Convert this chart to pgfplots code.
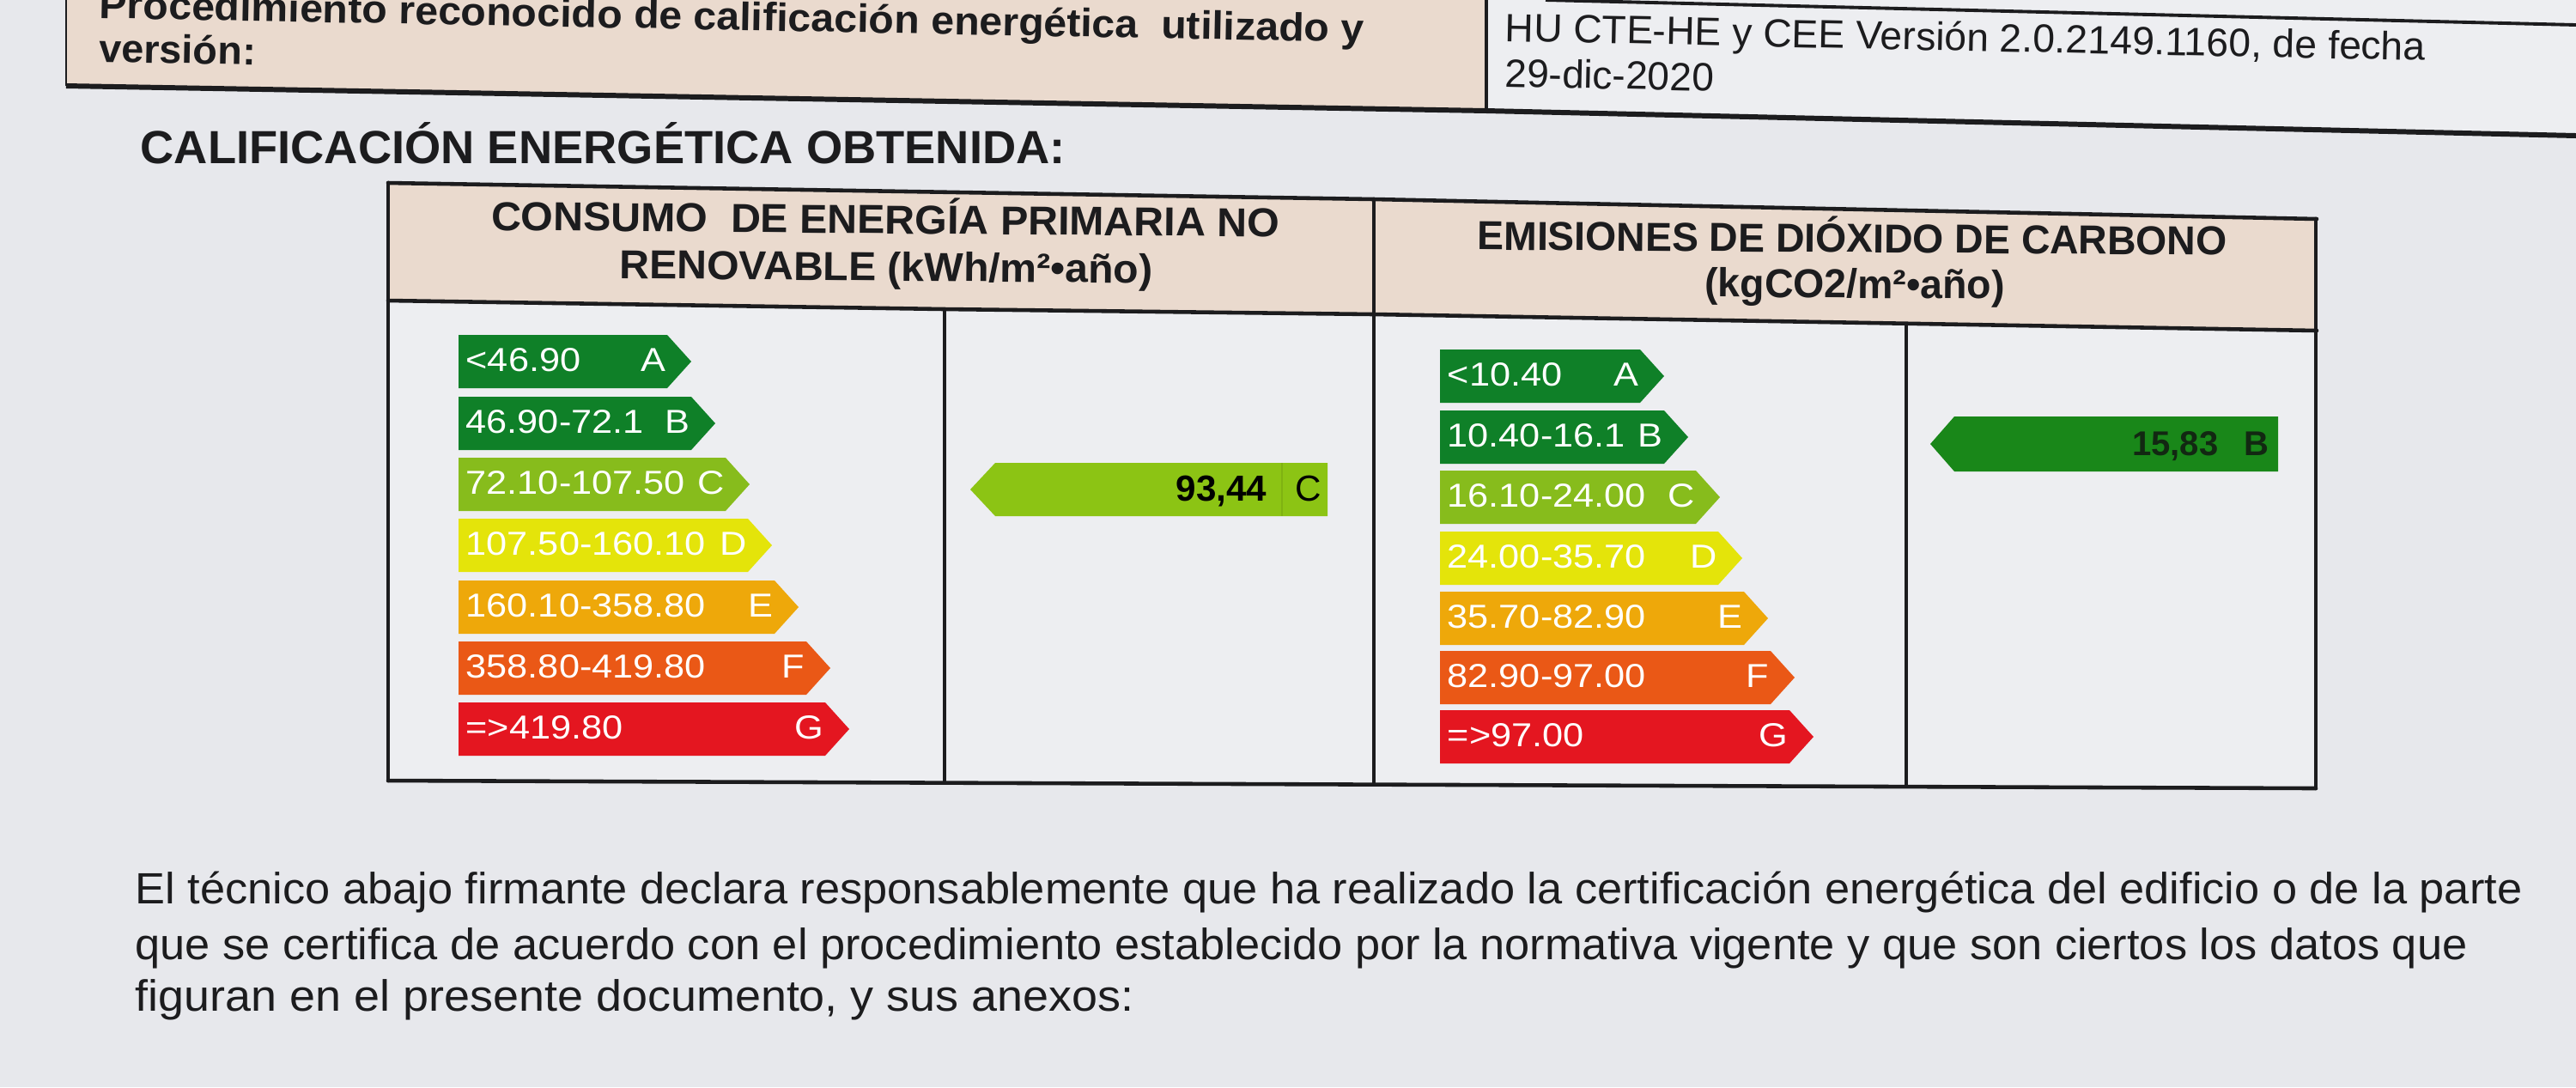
\documentclass[border=0pt]{standalone}
\usepackage{pgfplots}
\pgfplotsset{compat=1.18}
\usepackage{fontspec}
\setmainfont{Liberation Sans}
\usepackage{graphicx}
\definecolor{bg}{RGB}{231,232,236}
\definecolor{cell}{RGB}{237,238,241}
\definecolor{beige}{RGB}{234,218,206}
\definecolor{cA}{RGB}{15,128,40}
\definecolor{cC}{RGB}{135,188,28}
\definecolor{cD}{RGB}{228,228,10}
\definecolor{cE}{RGB}{238,168,10}
\definecolor{cF}{RGB}{234,88,22}
\definecolor{cG}{RGB}{228,22,32}
\definecolor{rC}{RGB}{140,196,20}
\definecolor{rB}{RGB}{25,135,25}
\definecolor{ink}{RGB}{28,28,30}
\newcommand{\fitw}[2]{\resizebox{#1}{\height}{#2}}
\newcommand{\sx}[1]{\scalebox{1.12}[1]{#1}}
\tikzset{
  stxt/.style={anchor=base west, inner sep=0pt, text=white, font=\fontsize{11pt}{13pt}\selectfont},
  slet/.style={anchor=base east, inner sep=0pt, text=white, font=\fontsize{11pt}{13pt}\selectfont},
  tl/.style={ink, line width=1.3pt, line cap=round},
}
\begin{document}
\begin{tikzpicture}
\begin{axis}[
  scale only axis, width=30cm, height=12.66cm,
  xmin=0, xmax=3000, ymin=0, ymax=1266, y dir=reverse,
  hide axis, clip=true,
]
% background and cells
\addplot[fill=bg, draw=none] coordinates {(0,0) (3000,0) (3000,1266) (0,1266)};
\addplot[fill=beige, draw=none] coordinates {(77,0) (1731,0) (1731,129) (77,100)};
\addplot[fill=cell, draw=none] coordinates {(1731,0) (3000,0) (3000,158) (1731,129)};
\addplot[fill=cell, draw=none] coordinates {(452,350) (1600,366) (2698,385) (2697,918) (452,909)};
\addplot[fill=beige, draw=none] coordinates {(452,213) (1600,232) (2698,255) (2698,385) (1600,366) (452,350)};
% top section lines
\addplot[ink, line width=1.7pt] coordinates {(77,100) (1731,129) (3000,158)};
\addplot[ink, line width=0.8pt] coordinates {(77,0) (77,100)};
\addplot[ink, line width=0.9pt] coordinates {(1731,0) (1731,129)};
\addplot[ink, line width=1.1pt] coordinates {(1800,0) (3000,29)};
% table lines
\addplot[tl] coordinates {(452,213) (1600,232) (2698,255)};
\addplot[tl] coordinates {(452,350) (1100,360) (1600,366) (2698,385)};
\addplot[tl] coordinates {(452,909) (2697,918)};
\addplot[tl] coordinates {(452,213) (452,909)};
\addplot[tl] coordinates {(1600,232) (1600,913)};
\addplot[ink, line width=1.1pt] coordinates {(1100,360) (1100,910)};
\addplot[ink, line width=1.1pt] coordinates {(2220,377) (2220,915)};
\addplot[tl] coordinates {(2697,255) (2697,918)};
% left scale (consumo)
\addplot[fill=cA, draw=none] coordinates {(534,390) (777,390) (805,421) (777,452) (534,452)};
\addplot[fill=cA, draw=none] coordinates {(534,462) (805,462) (833,493) (805,524) (534,524)};
\addplot[fill=cC, draw=none] coordinates {(534,533) (845,533) (873,564) (845,595) (534,595)};
\addplot[fill=cD, draw=none] coordinates {(534,604) (871,604) (899,635) (871,666) (534,666)};
\addplot[fill=cE, draw=none] coordinates {(534,676) (902,676) (930,707) (902,738) (534,738)};
\addplot[fill=cF, draw=none] coordinates {(534,747) (939,747) (967,778) (939,809) (534,809)};
\addplot[fill=cG, draw=none] coordinates {(534,818) (961,818) (989,849) (961,880) (534,880)};
% right scale (emisiones)
\addplot[fill=cA, draw=none] coordinates {(1677,407) (1910,407) (1938,438) (1910,469) (1677,469)};
\addplot[fill=cA, draw=none] coordinates {(1677,478) (1938,478) (1966,509) (1938,540) (1677,540)};
\addplot[fill=cC, draw=none] coordinates {(1677,548) (1975,548) (2003,579) (1975,610) (1677,610)};
\addplot[fill=cD, draw=none] coordinates {(1677,619) (2001,619) (2029,650) (2001,681) (1677,681)};
\addplot[fill=cE, draw=none] coordinates {(1677,689) (2031,689) (2059,720) (2031,751) (1677,751)};
\addplot[fill=cF, draw=none] coordinates {(1677,758) (2062,758) (2090,789) (2062,820) (1677,820)};
\addplot[fill=cG, draw=none] coordinates {(1677,827) (2084,827) (2112,858) (2084,889) (1677,889)};
% ratings
\addplot[fill=rC, draw=none] coordinates {(1130,570) (1159,539) (1546,539) (1546,601) (1159,601)};
\addplot[rC!75!black, opacity=0.35, line width=0.6pt] coordinates {(1493,539) (1493,601)};
\addplot[fill=rB, draw=none] coordinates {(2248,517) (2276,485) (2653,485) (2653,549) (2276,549)};

% scale texts left
\node[stxt] at (542,432) {\sx{<46.90}};
\node[stxt] at (542,504) {\sx{46.90-72.1}};
\node[stxt] at (542,575) {\sx{72.10-107.50}};
\node[stxt] at (542,646) {\sx{107.50-160.10}};
\node[stxt] at (542,718) {\sx{160.10-358.80}};
\node[stxt] at (542,789) {\sx{358.80-419.80}};
\node[stxt] at (542,860) {\sx{=>419.80}};
\node[slet] at (776,432) {\sx{A}};
\node[slet] at (804,504) {\sx{B}};
\node[slet] at (844,575) {\sx{C}};
\node[slet] at (870,646) {\sx{D}};
\node[slet] at (901,718) {\sx{E}};
\node[slet] at (938,789) {\sx{F}};
\node[slet] at (960,860) {\sx{G}};
% scale texts right
\node[stxt] at (1685,449) {\sx{<10.40}};
\node[stxt] at (1685,520) {\sx{10.40-16.1}};
\node[stxt] at (1685,590) {\sx{16.10-24.00}};
\node[stxt] at (1685,661) {\sx{24.00-35.70}};
\node[stxt] at (1685,731) {\sx{35.70-82.90}};
\node[stxt] at (1685,800) {\sx{82.90-97.00}};
\node[stxt] at (1685,869) {\sx{=>97.00}};
\node[slet] at (1909,449) {\sx{A}};
\node[slet] at (1937,520) {\sx{B}};
\node[slet] at (1974,590) {\sx{C}};
\node[slet] at (2000,661) {\sx{D}};
\node[slet] at (2030,731) {\sx{E}};
\node[slet] at (2061,800) {\sx{F}};
\node[slet] at (2083,869) {\sx{G}};
% rating texts
\node[anchor=base east, inner sep=0pt, text=black, font=\fontsize{12pt}{14pt}\selectfont\bfseries] at (1476,583) {93,44};
\node[anchor=base east, inner sep=0pt, text=black, font=\fontsize{12pt}{14pt}\selectfont] at (1540,583) {C};
\node[anchor=base east, inner sep=0pt, text={rgb,255:red,18;green,40;blue,18}, font=\fontsize{11.4pt}{14pt}\selectfont\bfseries] at (2584,530) {15,83};
\node[anchor=base east, inner sep=0pt, text={rgb,255:red,18;green,40;blue,18}, font=\fontsize{11.4pt}{14pt}\selectfont\bfseries] at (2643,530) {B};

% top section texts
\node[anchor=base west, inner sep=0pt, text=ink, rotate=-1.1, font=\fontsize{13.1pt}{15pt}\selectfont\bfseries] at (115,21) {\fitw{147.3mm}{Procedimiento reconocido de calificación energética~ utilizado y}};
\node[anchor=base west, inner sep=0pt, text=ink, rotate=-1.1, font=\fontsize{13.1pt}{15pt}\selectfont\bfseries] at (115,72) {\fitw{18.2mm}{versión:}};
\node[anchor=base west, inner sep=0pt, text=ink, rotate=-1.2, font=\fontsize{13.1pt}{15pt}\selectfont] at (1752,48) {\fitw{107.2mm}{HU CTE-HE y CEE Versión 2.0.2149.1160, de fecha}};
\node[anchor=base west, inner sep=0pt, text=ink, rotate=-1.2, font=\fontsize{13.1pt}{15pt}\selectfont] at (1752,101) {\fitw{24.3mm}{29-dic-2020}};
% title
\node[anchor=base west, inner sep=0pt, text=ink, font=\fontsize{15.4pt}{18pt}\selectfont\bfseries] at (163,190) {\fitw{107.7mm}{CALIFICACIÓN ENERGÉTICA OBTENIDA:}};
% headers
\node[anchor=base, inner sep=0pt, text=ink, rotate=-0.5, font=\fontsize{13.4pt}{16pt}\selectfont\bfseries] at (1031,272) {\fitw{91.8mm}{CONSUMO~ DE ENERGÍA PRIMARIA NO}};
\node[anchor=base, inner sep=0pt, text=ink, rotate=-0.5, font=\fontsize{13.4pt}{16pt}\selectfont\bfseries] at (1032,327) {\fitw{62.1mm}{RENOVABLE (kWh/m²•año)}};
\node[anchor=base, inner sep=0pt, text=ink, rotate=-0.4, font=\fontsize{13.4pt}{16pt}\selectfont\bfseries] at (2157,294) {\fitw{87.3mm}{EMISIONES DE DIÓXIDO DE CARBONO}};
\node[anchor=base, inner sep=0pt, text=ink, rotate=-0.4, font=\fontsize{13.4pt}{16pt}\selectfont\bfseries] at (2160,347) {\fitw{34.9mm}{(kgCO2/m²•año)}};
% paragraph
\node[anchor=base west, inner sep=0pt, text=ink, font=\fontsize{14.5pt}{17pt}\selectfont] at (157,1052) {\fitw{278mm}{El técnico abajo firmante declara responsablemente que ha realizado la certificación energética del edificio o de la parte}};
\node[anchor=base west, inner sep=0pt, text=ink, font=\fontsize{14.5pt}{17pt}\selectfont] at (157,1117) {\fitw{271.6mm}{que se certifica de acuerdo con el procedimiento establecido por la normativa vigente y que son ciertos los datos que}};
\node[anchor=base west, inner sep=0pt, text=ink, font=\fontsize{14.5pt}{17pt}\selectfont] at (157,1177) {\fitw{116.3mm}{figuran en el presente documento, y sus anexos:}};
\end{axis}
\pgfresetboundingbox
\path (current axis.south west) rectangle (current axis.north east);
\end{tikzpicture}
\end{document}
